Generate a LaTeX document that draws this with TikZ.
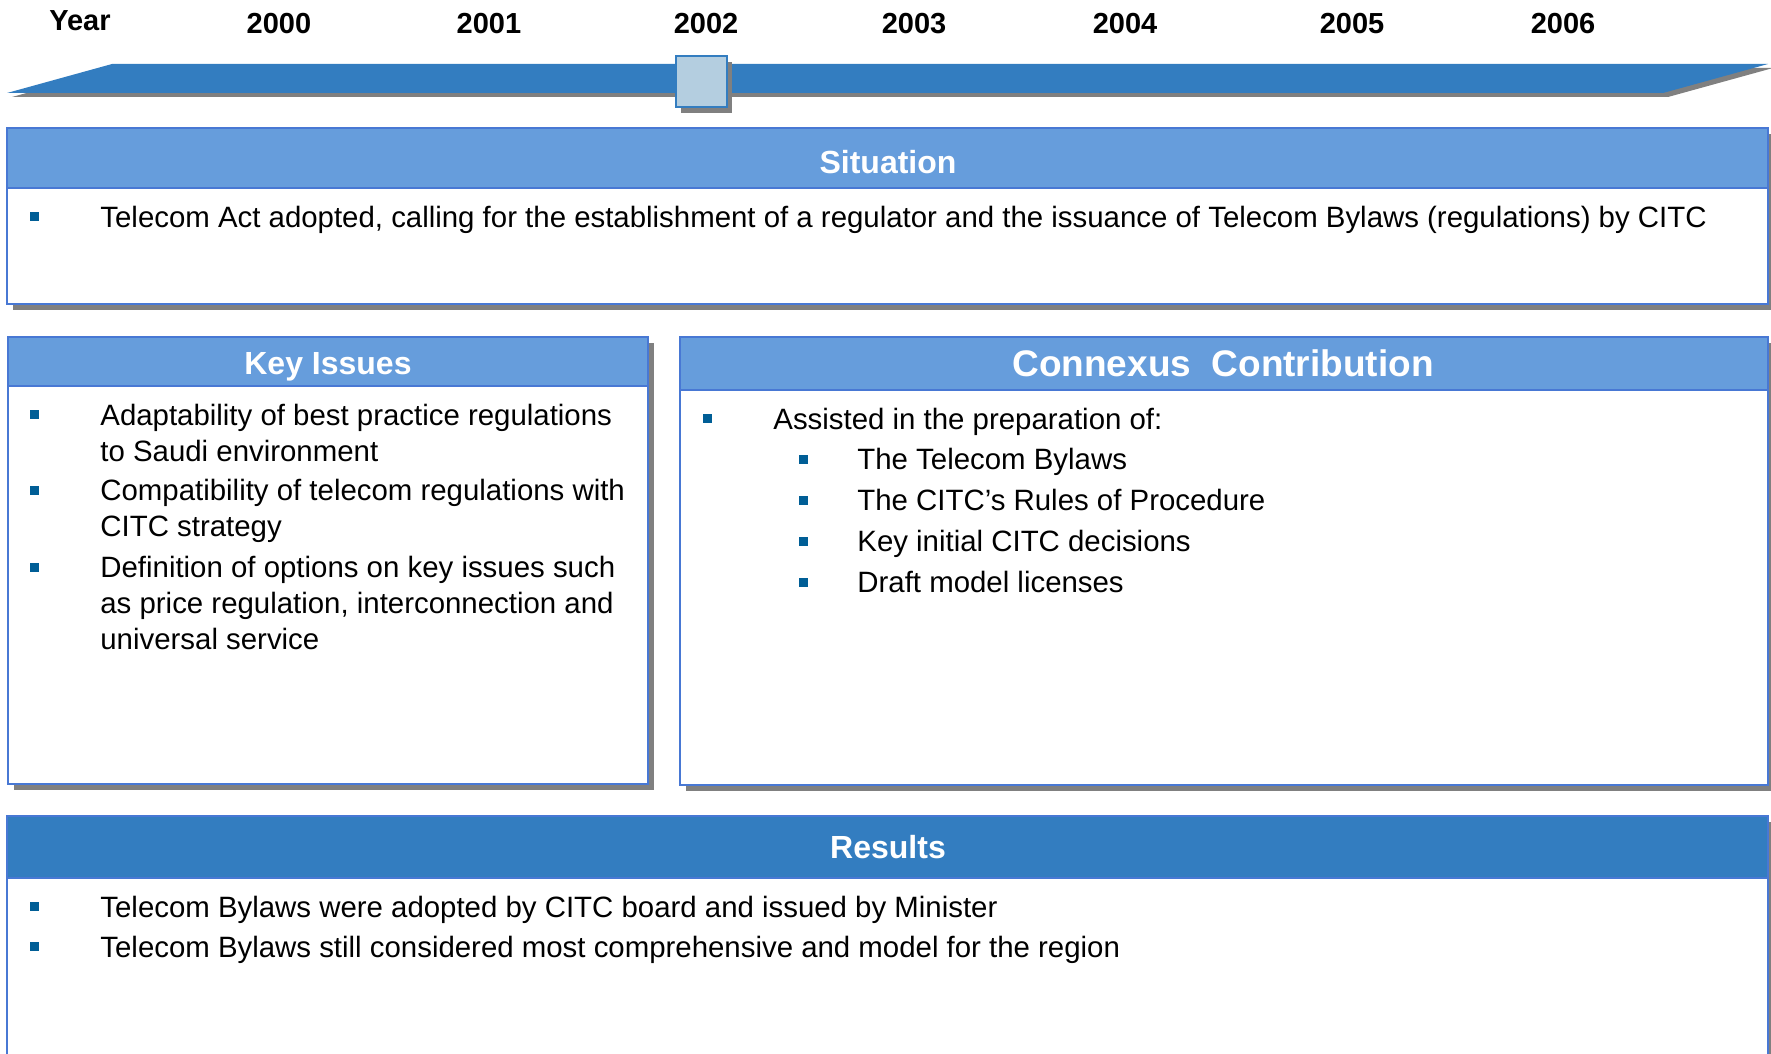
\documentclass[tikz,border=0pt]{standalone}
\usepackage{fontspec}
\setmainfont{Liberation Sans}
\usepackage{tikz}

\definecolor{barblue}{RGB}{51,125,192}
\definecolor{headblue}{RGB}{102,157,220}
\definecolor{edgeblue}{RGB}{72,120,212}
\definecolor{shadowgray}{RGB}{128,128,128}
\definecolor{markblue}{RGB}{180,206,224}
\definecolor{dotblue}{RGB}{0,94,150}

\begin{document}
\begin{tikzpicture}[x=0.5pt, y=-0.5pt,
	yearlabel/.style={font=\fontsize{14.5}{18}\selectfont\bfseries, inner sep=0pt},
	panel/.style={draw=edgeblue, line width=1.2pt, fill=white},
	band/.style={draw=edgeblue, line width=1.2pt, fill=headblue},
	boxshadow/.style={fill=shadowgray},
	title/.style={font=\fontsize{16}{19}\selectfont\bfseries, text=white, inner sep=0pt, anchor=base},
	txt/.style={font=\fontsize{14.7}{18}\selectfont, inner sep=0pt, anchor=north west, align=left, execute at begin node=\strut},
	bul/.style={fill=dotblue, inner sep=0pt, minimum size=4.5pt}]
		\useasboundingbox (0,0) rectangle (1771,1054);
		\clip (0,0) rectangle (1771,1054);
		
		% timeline
		\node[yearlabel] (year) at (80,21) {Year};
		\node[yearlabel] (y2000) at (279,24) {2000};
		\node[yearlabel] (y2001) at (489,24) {2001};
		\node[yearlabel] (y2002) at (706,24) {2002};
		\node[yearlabel] (y2003) at (914,24) {2003};
		\node[yearlabel] (y2004) at (1125,24) {2004};
		\node[yearlabel] (y2005) at (1352,24) {2005};
		\node[yearlabel] (y2006) at (1563,24) {2006};
		
		\fill[shadowgray] (12,97) -- (117,68) -- (1773,68) -- (1668,97) -- cycle;
		\fill[barblue] (7,93) -- (112,64) -- (1768,64) -- (1663,93) -- cycle;
		\fill[boxshadow] (681,62) rectangle (732,113);
		\draw[draw=barblue, line width=1pt, fill=markblue] (676,56) rectangle (727,107);
		
		% situation
		\fill[boxshadow] (13,134) rectangle (1774,310);
		\draw[panel] (7,128) rectangle (1768,304);
		\draw[band] (7,128) rectangle (1768,188);
		\node[title] (sit) at (888,173) {Situation};
		\node[bul] (sitb) at (34.5,216.5) {};
		\node[txt] (sit1) at (100,202) {Telecom Act adopted, calling for the establishment of a regulator and the issuance of Telecom Bylaws (regulations) by CITC};
		
		% key issues
		\fill[boxshadow] (14,343) rectangle (654,790);
		\draw[panel] (8,337) rectangle (648,784);
		\draw[band] (8,337) rectangle (648,386);
		\node[title] (key) at (328,374.5) {Key Issues};
		\node[bul] (keyb1) at (34.5,414.5) {};
		\node[txt] (key1) at (100,403.5) {Adaptability of best practice regulations\\to Saudi environment};
		\node[bul] (keyb2) at (34.5,490) {};
		\node[txt] (key2) at (100,479) {Compatibility of telecom regulations with\\CITC strategy};
		\node[bul] (keyb3) at (34.5,567) {};
		\node[txt] (key3) at (100,555.5) {Definition of options on key issues such\\as price regulation, interconnection and\\universal service};
		
		% contribution
		\fill[boxshadow] (686,343) rectangle (1774,791);
		\draw[panel] (680,337) rectangle (1768,785);
		\draw[band] (680,337) rectangle (1768,390);
		\node[title, font=\fontsize{18.5}{22}\selectfont\bfseries] (con) at (1223,376) {Connexus\ \ Contribution};
		\node[bul] (conb) at (707,418.5) {};
		\node[txt] (con1) at (773,404) {Assisted in the preparation of:};
		\node[bul] (subb1) at (803,459) {};
		\node[txt] (sub1) at (857,444) {The Telecom Bylaws};
		\node[bul] (subb2) at (803,500) {};
		\node[txt] (sub2) at (857,485) {The CITC’s Rules of Procedure};
		\node[bul] (subb3) at (803,541) {};
		\node[txt] (sub3) at (857,526) {Key initial CITC decisions};
		\node[bul] (subb4) at (803,582) {};
		\node[txt] (sub4) at (857,567) {Draft model licenses};
		
		% results
		\fill[boxshadow] (13,822) rectangle (1774,1090);
		\draw[panel] (7,816) rectangle (1768,1080);
		\draw[band, fill=barblue] (7,816) rectangle (1768,878);
		\node[title] (res) at (888,858.5) {Results};
		\node[bul] (resb1) at (34.5,906.5) {};
		\node[txt] (res1) at (100,892) {Telecom Bylaws were adopted by CITC board and issued by Minister};
		\node[bul] (resb2) at (34.5,946.5) {};
		\node[txt] (res2) at (100,932) {Telecom Bylaws still considered most comprehensive and model for the region};
\end{tikzpicture}
\end{document}
